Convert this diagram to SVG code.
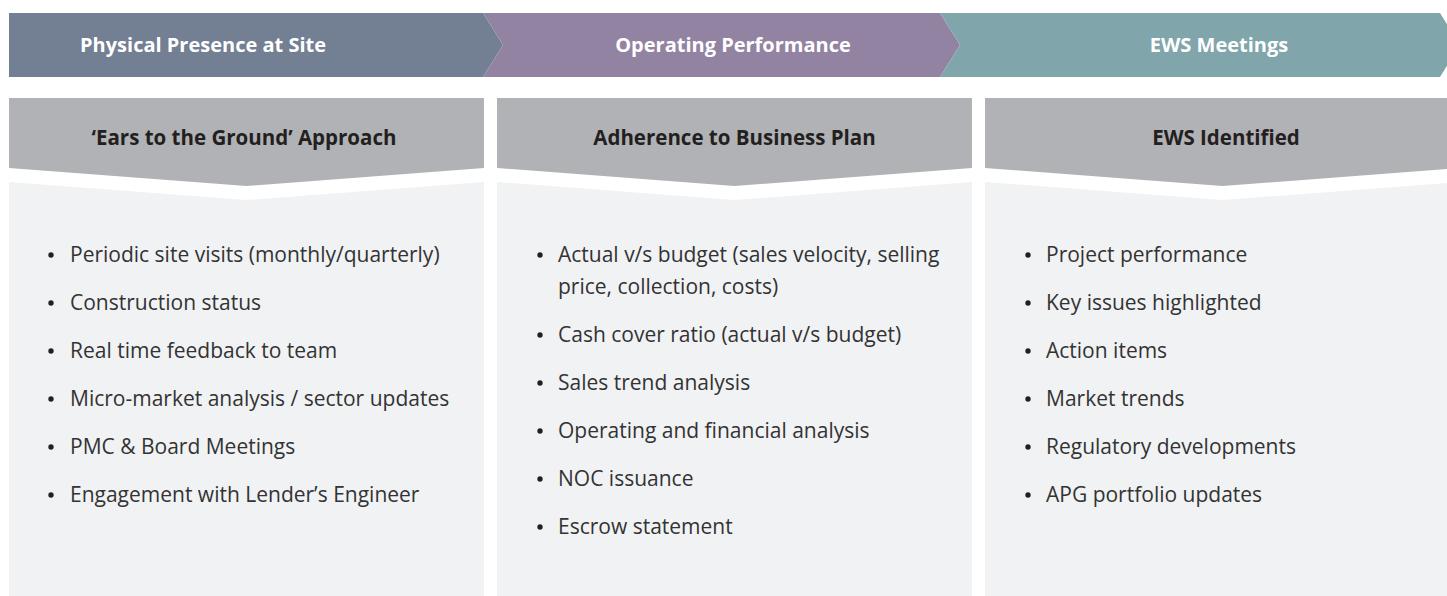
<svg xmlns="http://www.w3.org/2000/svg" width="1447" height="596" viewBox="0 0 1447 596">
<style>
.band{font-family:"Open Sans","Noto Sans",sans-serif;font-weight:bold;font-size:20px;fill:#ffffff}
.hdr{font-family:"Open Sans","Noto Sans",sans-serif;font-weight:bold;font-size:20.5px;fill:#231f20;text-anchor:middle}
.item{font-family:"Open Sans","Noto Sans",sans-serif;font-size:21px;fill:#333333}
.gray{fill:#b1b2b6}
.light{fill:#f1f2f4}
.dot{fill:#231f20}
</style>
<rect width="1447" height="596" fill="#ffffff"/>
<g id="band-physical">
<polygon points="9,13 483,13 503,45 483,77 9,77" fill="#737f92"/>
<text class="band" x="80" y="52">Physical Presence at Site</text>
</g>
<g id="band-operating">
<polygon points="483,13 940,13 960,45 940,77 483,77 503,45" fill="#9383a3"/>
<text class="band" x="733" y="52" text-anchor="middle">Operating Performance</text>
</g>
<g id="band-ews">
<polygon points="940,13 1440,13 1460,45 1440,77 940,77 960,45" fill="#80a6ab"/>
<text class="band" x="1219" y="52" text-anchor="middle">EWS Meetings</text>
</g>
<g id="col-ears">
<polygon class="gray" points="9,98 484,98 484,168 246.5,186 9,168"/>
<polygon class="light" points="9,182 246.5,200 484,182 484,596 9,596"/>
<text class="hdr" x="244" y="145">‘Ears to the Ground’ Approach</text>
<g class="item">
<circle class="dot" cx="51" cy="255" r="2.7"/><text x="70" y="262">Periodic site visits (monthly/quarterly)</text>
<circle class="dot" cx="51" cy="303" r="2.7"/><text x="70" y="310">Construction status</text>
<circle class="dot" cx="51" cy="351" r="2.7"/><text x="70" y="358">Real time feedback to team</text>
<circle class="dot" cx="51" cy="399" r="2.7"/><text x="70" y="406">Micro-market analysis / sector updates</text>
<circle class="dot" cx="51" cy="447" r="2.7"/><text x="70" y="454">PMC &amp; Board Meetings</text>
<circle class="dot" cx="51" cy="495" r="2.7"/><text x="70" y="502">Engagement with Lender’s Engineer</text>
</g>
</g>
<g id="col-adherence">
<polygon class="gray" points="497,98 972,98 972,168 734.5,186 497,168"/>
<polygon class="light" points="497,182 734.5,200 972,182 972,596 497,596"/>
<text class="hdr" x="734.5" y="145">Adherence to Business Plan</text>
<g class="item">
<circle class="dot" cx="540" cy="255" r="2.7"/><text x="558" y="262">Actual v/s budget (sales velocity, selling</text>
<text x="558" y="294">price, collection, costs)</text>
<circle class="dot" cx="540" cy="335" r="2.7"/><text x="558" y="342">Cash cover ratio (actual v/s budget)</text>
<circle class="dot" cx="540" cy="383" r="2.7"/><text x="558" y="390">Sales trend analysis</text>
<circle class="dot" cx="540" cy="431" r="2.7"/><text x="558" y="438">Operating and financial analysis</text>
<circle class="dot" cx="540" cy="479" r="2.7"/><text x="558" y="486">NOC issuance</text>
<circle class="dot" cx="540" cy="527" r="2.7"/><text x="558" y="534">Escrow statement</text>
</g>
</g>
<g id="col-ews">
<polygon class="gray" points="985,98 1460,98 1460,168 1222.5,186 985,168"/>
<polygon class="light" points="985,182 1222.5,200 1460,182 1460,596 985,596"/>
<text class="hdr" x="1226" y="145">EWS Identified</text>
<g class="item">
<circle class="dot" cx="1028" cy="255" r="2.7"/><text x="1046" y="262">Project performance</text>
<circle class="dot" cx="1028" cy="303" r="2.7"/><text x="1046" y="310">Key issues highlighted</text>
<circle class="dot" cx="1028" cy="351" r="2.7"/><text x="1046" y="358">Action items</text>
<circle class="dot" cx="1028" cy="399" r="2.7"/><text x="1046" y="406">Market trends</text>
<circle class="dot" cx="1028" cy="447" r="2.7"/><text x="1046" y="454">Regulatory developments</text>
<circle class="dot" cx="1028" cy="495" r="2.7"/><text x="1046" y="502">APG portfolio updates</text>
</g>
</g>
<g id="connectors"/>
</svg>
